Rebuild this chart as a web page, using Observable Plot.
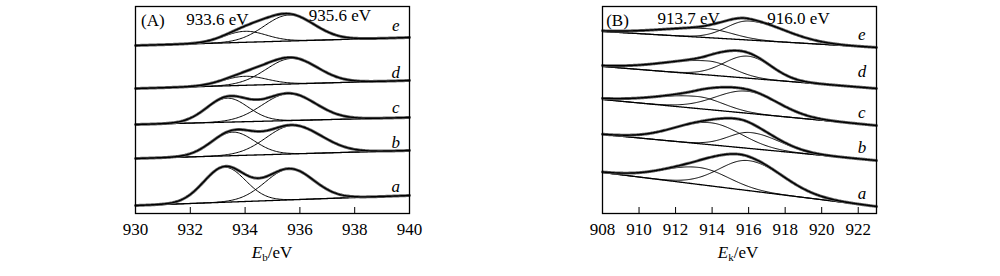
<!DOCTYPE html>
<html><head><meta charset="utf-8">
<script src="https://cdn.jsdelivr.net/npm/d3@7"></script>
<script src="https://cdn.jsdelivr.net/npm/@observablehq/plot@0.6"></script>
<style>
body{margin:0;background:#fff;}
#wrap{position:relative;width:1000px;height:276px;}
#wrap svg{position:absolute;top:0;}
#wrap svg, #wrap svg text{font-family:"Liberation Serif","Times New Roman",serif !important;}
</style></head><body><div id="wrap"></div>
<script>
// ---- data ----
const spectra = ["a", "b", "c", "d", "e"];

// Panel A: Cu 2p3/2 binding energy
const domainA = [930, 940];
const tickLabelsA = [930, 932, 934, 936, 938, 940];
const tickMarksA = [932, 934, 936, 938];
const baseStartA = [8, 55, 89, 125, 168];    // background at 930 eV
const baseEndA = [18, 63, 96, 133, 176];     // background at 940 eV
const p1CenterA = [933.25, 933.55, 933.35, 934.0, 934.0];
const p1HeightA = [35, 23.5, 24, 9, 11];
const p1SigLA = [0.76, 0.78, 0.76, 0.82, 0.78];
const p1SigRA = [0.76, 0.78, 0.76, 0.80, 0.77];
const p2CenterA = [935.62, 935.73, 935.6, 935.7, 935.6];
const p2HeightA = [31, 28.4, 27, 25.5, 26];
const p2SigLA = [0.88, 0.95, 0.97, 0.93, 0.90];
const p2SigRA = [0.88, 1.05, 0.97, 0.95, 0.92];
const notesA = ["(A)", "933.6 eV", "935.6 eV"];
const notesAx = [930.2, 932.99, 937.46];
const notesAy = [193, 194, 198];
const letterYA = [27, 71, 106, 141, 188];

// Panel B: Cu LMM kinetic energy
const domainB = [908, 923];
const tickLabelsB = [908, 910, 912, 914, 916, 918, 920, 922];
const tickMarksB = [910, 912, 914, 916, 918, 920, 922];
const baseStartB = [41, 79, 114, 147, 182];  // background at 908 eV
const baseEndB = [7, 53, 88, 125, 166];      // background at 923 eV
const p1CenterB = [913.3, 913.9, 913.2, 913.8, 913.7];
const p1HeightB = [17, 22, 12, 14, 9];
const p1SigLB = [2.0, 2.0, 2.4, 2.5, 2.5];
const p1SigRB = [1.6, 1.7, 1.4, 1.3, 1.4];
const p2CenterB = [916.0, 916.1, 915.9, 915.95, 916.0];
const p2HeightB = [30, 16, 22, 22, 19];
const p2SigLB = [1.6, 1.2, 1.7, 1.3, 1.2];
const p2SigRB = [1.9, 1.6, 1.7, 1.3, 2.0];
const notesB = ["(B)", "913.7 eV", "916.0 eV"];
const notesBx = [908.2, 912.71, 918.73];
const notesBy = [193, 195, 195];
const letterYB = [20, 66, 101, 142, 179];

// ---- build fitted curves from the peak parameters ----
function comp(x, c, h, sl, sr) {
  const s = x < c ? sl : sr;
  return h * Math.exp(-((x - c) ** 2) / (2 * s * s));
}
function build(dom, bs, be, c1, h1, s1l, s1r, c2, h2, s2l, s2r) {
  const rows = [];
  const n = Math.round((dom[1] - dom[0]) / 0.05);
  spectra.forEach((sp, i) => {
    for (let k = 0; k <= n; k++) {
      const x = dom[0] + k * 0.05;
      const base = bs[i] + (be[i] - bs[i]) * (x - dom[0]) / (dom[1] - dom[0]);
      const a = comp(x, c1[i], h1[i], s1l[i], s1r[i]);
      const b = comp(x, c2[i], h2[i], s2l[i], s2r[i]);
      rows.push({sp, x, base, c1: base + a, c2: base + b, env: base + a + b});
    }
  });
  return rows;
}

const FONT = "Liberation Serif";
function panel(o) {
  const rows = build(o.dom, o.bs, o.be, o.c1, o.h1, o.s1l, o.s1r, o.c2, o.h2, o.s2l, o.s2r);
  const notes = o.notes.map((t, i) => ({t, x: o.nx[i], y: o.ny[i]}));
  const letters = spectra.map((t, i) => ({t, y: o.ly[i]}));
  const svg = Plot.plot({
    width: 500, height: 276,
    marginLeft: o.ml, marginRight: o.mr, marginTop: 6, marginBottom: 63,
    style: {fontFamily: FONT, fontSize: "17px", background: "white", color: "black"},
    x: {domain: o.dom},
    y: {domain: [0, 207], axis: null},
    marks: [
      Plot.line(rows, {x: "x", y: "base", z: "sp", stroke: "black", strokeWidth: 1.3}),
      Plot.line(rows, {x: "x", y: "c1", z: "sp", stroke: "black", strokeWidth: 1}),
      Plot.line(rows, {x: "x", y: "c2", z: "sp", stroke: "black", strokeWidth: 1}),
      Plot.line(rows, {x: "x", y: "env", z: "sp", stroke: "#666", strokeWidth: 3}),
      Plot.line(rows, {x: "x", y: "env", z: "sp", stroke: "black", strokeWidth: 1.4}),
      Plot.ruleX(o.tm, {y1: 0, y2: 6, stroke: "black", strokeWidth: 1}),
      Plot.frame({stroke: "black", strokeWidth: 1.3}),
      Plot.axisX(o.tl, {tickSize: 0, tickPadding: 9, fontSize: 17, fontFamily: FONT, label: null}),
      Plot.text(notes, {x: "x", y: "y", text: "t", fontSize: 17, fontFamily: FONT, fill: "black",
        textAnchor: "start", lineAnchor: "middle", filter: (d, i) => i === 0}),
      Plot.text(notes, {x: "x", y: "y", text: "t", fontSize: 17, fontFamily: FONT, fill: "black",
        textAnchor: "middle", lineAnchor: "middle", filter: (d, i) => i > 0}),
      Plot.text(letters, {x: o.lx, y: "y", text: "t", fontSize: 17, fontFamily: FONT, fontStyle: "italic",
        fill: "black", textAnchor: "middle", lineAnchor: "middle"})
    ]
  });
  const t = d3.select(svg).append("text")
    .attr("x", o.labX).attr("y", 258).attr("text-anchor", "middle")
    .attr("font-family", FONT).attr("font-size", 17).attr("fill", "black");
  t.append("tspan").attr("font-style", "italic").text("E");
  t.append("tspan").attr("font-size", 11).attr("dy", 3).text(o.sub);
  t.append("tspan").attr("dy", -3).text("/eV");
  svg.style.left = o.left + "px";
  return svg;
}

const wrap = document.getElementById("wrap");
wrap.appendChild(panel({
  left: 0, ml: 135, mr: 91, dom: domainA, tl: tickLabelsA, tm: tickMarksA,
  bs: baseStartA, be: baseEndA, c1: p1CenterA, h1: p1HeightA, s1l: p1SigLA, s1r: p1SigRA,
  c2: p2CenterA, h2: p2HeightA, s2l: p2SigLA, s2r: p2SigRA,
  notes: notesA, nx: notesAx, ny: notesAy, ly: letterYA, lx: 939.5, labX: 272, sub: "b"
}));
wrap.appendChild(panel({
  left: 500, ml: 102, mr: 124, dom: domainB, tl: tickLabelsB, tm: tickMarksB,
  bs: baseStartB, be: baseEndB, c1: p1CenterB, h1: p1HeightB, s1l: p1SigLB, s1r: p1SigRB,
  c2: p2CenterB, h2: p2HeightB, s2l: p2SigLB, s2r: p2SigRB,
  notes: notesB, nx: notesBx, ny: notesBy, ly: letterYB, lx: 922.2, labX: 238, sub: "k"
}));
</script></body></html>
